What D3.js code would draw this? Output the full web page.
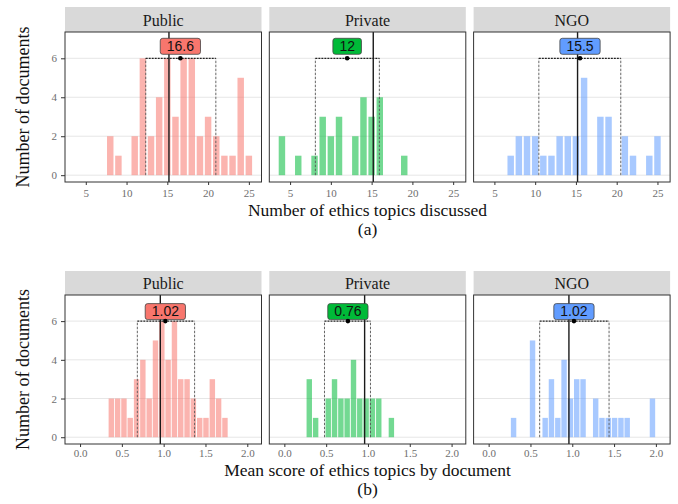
<!DOCTYPE html>
<html><head><meta charset="utf-8">
<script src="https://cdn.jsdelivr.net/npm/d3@7"></script>
<style>body{margin:0;background:#fff}</style></head>
<body><svg id="c" width="678" height="504"></svg>
<script>
const facets = ["Public", "Private", "NGO"];
const facetColors = ["#F8766D", "#00BA38", "#619CFF"];
const yTickValues = [0, 2, 4, 6];

// (a) Number of ethics topics discussed — bins of width 1, centred on integers
const topBinCenters = [4,5,6,7,8,9,10,11,12,13,14,15,16,17,18,19,20,21,22,23,24,25];
const topPublic  = [0,0,0,0,2,1,0,2,6,2,4,6,3,6,6,2,3,2,1,1,5,1];
const topPrivate = [2,0,1,0,1,3,2,3,0,2,4,3,4,0,0,1,0,0,0,0,0,0];
const topNGO     = [0,0,0,1,2,2,2,1,1,2,2,2,5,0,3,3,0,2,1,0,1,2];
const topMeans = [16.6, 12, 15.5];
const topMeanLabels = ["16.6", "12", "15.5"];
const topLow  = [12.35, 8.1, 10.45];
const topHigh = [20.95, 15.95, 20.5];
const topOverallMean = 15.2;
const topXTicks = [5, 10, 15, 20, 25];

// (b) Mean score of ethics topics by document
const bottomBinCenters = [0.298,0.374,0.449,0.525,0.600,0.676,0.751,0.827,0.902,0.978,1.053,1.129,1.204,1.280,1.355,1.431,1.506,1.582,1.657,1.733,1.808,1.884,1.959];
const bottomPublic  = [0,2,2,2,1,3,4,2,5,6,4,6,3,3,2,1,1,3,2,1,0,0,0];
const bottomPrivate = [3,1,0,2,3,2,2,4,2,2,2,2,0,1,0,0,0,0,0,0,0,0,0];
const bottomNGO     = [1,0,0,5,0,1,3,1,4,2,3,3,0,2,1,1,1,1,1,0,0,0,2];
const bottomMeans = [1.02, 0.76, 1.02];
const bottomMeanLabels = ["1.02", "0.76", "1.02"];
const bottomLow  = [0.685, 0.48, 0.61];
const bottomHigh = [1.37, 1.03, 1.44];
const bottomOverallMean = 0.96;
const bottomXTicks = [0, 0.5, 1, 1.5, 2];

const svg = d3.select("#c");
svg.append("rect").attr("width", 678).attr("height", 504).attr("fill", "#fff");

const serif = "'Liberation Serif','Times New Roman',serif";
const sans = "'Liberation Sans',Arial,sans-serif";
const panelLefts = [65, 269.3, 473.6];
const panelW = 196.5;

const rows = [
  {stripTop: 7, panelTop: 32, panelBottom: 182, xDomain: [2.45, 26.55], ticks: topXTicks, fmt: d3.format("d"),
   bins: topBinCenters, binWidth: 1, gap: 1.7, counts: [topPublic, topPrivate, topNGO],
   means: topMeans, labels: topMeanLabels, lows: topLow, highs: topHigh, overall: topOverallMean,
   labelBottom: 4, tickPad: 4, xTitle: "Number of ethics topics discussed", xTitleY: 215.5, sub: "(a)", subY: 235},
  {stripTop: 271, panelTop: 295, panelBottom: 444, xDomain: [-0.18, 2.17], ticks: bottomXTicks, fmt: d3.format(".1f"),
   bins: bottomBinCenters, binWidth: 0.0755, gap: 0.9, counts: [bottomPublic, bottomPrivate, bottomNGO],
   means: bottomMeans, labels: bottomMeanLabels, lows: bottomLow, highs: bottomHigh, overall: bottomOverallMean,
   labelBottom: 1.5, tickPad: 2.5, xTitle: "Mean score of ethics topics by document", xTitleY: 475.5, sub: "(b)", subY: 495}
];

rows.forEach(row => {
  const y = d3.scaleLinear().domain([-0.35, 7.35]).range([row.panelBottom, row.panelTop]);
  facets.forEach((f, i) => {
    const x0 = panelLefts[i];
    const x = d3.scaleLinear().domain(row.xDomain).range([x0, x0 + panelW]);
    const g = svg.append("g");
    // strip
    g.append("rect").attr("x", x0).attr("y", row.stripTop).attr("width", panelW)
      .attr("height", row.panelTop - row.stripTop).attr("fill", "#D9D9D9");
    g.append("text").attr("x", x0 + panelW / 2).attr("y", row.panelTop - 6.5)
      .attr("text-anchor", "middle").attr("font-family", serif).attr("font-size", 16)
      .attr("fill", "#1A1A1A").text(f);
    // grid
    g.selectAll(".grid").data(yTickValues).enter().append("line")
      .attr("x1", x0).attr("x2", x0 + panelW).attr("y1", d => y(d)).attr("y2", d => y(d))
      .attr("stroke", "#E6E6E6").attr("stroke-width", 1);
    // bars
    const data = row.bins.map((c, k) => ({c, n: row.counts[i][k]})).filter(d => d.n > 0);
    g.selectAll(".bar").data(data).enter().append("rect")
      .attr("x", d => x(d.c - row.binWidth / 2) + row.gap / 2)
      .attr("width", d => x(d.c + row.binWidth / 2) - x(d.c - row.binWidth / 2) - row.gap)
      .attr("y", d => y(d.n)).attr("height", d => y(0) - y(d.n))
      .attr("fill", facetColors[i]).attr("fill-opacity", 0.55);
    // dashed box
    const lo = row.lows[i], hi = row.highs[i];
    g.append("path").attr("d", `M${x(lo)},${y(0)}V${y(6)}M${x(hi)},${y(0)}V${y(6)}`)
      .attr("stroke", "#555").attr("stroke-width", 0.9).attr("stroke-dasharray", "2.5,1.5").attr("fill", "none");
    g.append("line").attr("x1", x(lo)).attr("x2", x(hi)).attr("y1", y(6)).attr("y2", y(6))
      .attr("stroke", "#222").attr("stroke-width", 1.2).attr("stroke-dasharray", "2,1");
    // overall mean line
    g.append("line").attr("x1", x(row.overall)).attr("x2", x(row.overall))
      .attr("y1", row.panelTop).attr("y2", row.panelBottom)
      .attr("stroke", "#1A1A1A").attr("stroke-width", 1.4);
    // label
    const m = row.means[i];
    const t = g.append("text").attr("x", x(m)).attr("y", y(6) - row.labelBottom - 3.2)
      .attr("text-anchor", "middle").attr("font-family", sans).attr("font-size", 14)
      .attr("fill", "#111").text(row.labels[i]);
    const tw = t.node().getComputedTextLength();
    g.insert("rect", () => t.node())
      .attr("x", x(m) - tw / 2 - 6.5).attr("width", tw + 13)
      .attr("y", y(6) - row.labelBottom - 16).attr("height", 16)
      .attr("rx", 2.5).attr("fill", facetColors[i]).attr("stroke", "#444").attr("stroke-width", 0.8);
    g.append("circle").attr("cx", x(m)).attr("cy", y(6)).attr("r", 2.3).attr("fill", "#000");
    // x axis
    const ax = g.append("g").attr("transform", `translate(0,${row.panelBottom})`)
      .call(d3.axisBottom(x).tickValues(row.ticks).tickFormat(row.fmt).tickSize(3).tickPadding(row.tickPad));
    ax.select(".domain").remove();
    ax.selectAll("line").attr("stroke", "#333");
    ax.selectAll("text").attr("font-family", serif).attr("font-size", 11).attr("fill", "#6E6E6E");
    // y axis on first panel
    if (i === 0) {
      const ay = g.append("g").attr("transform", `translate(${x0},0)`)
        .call(d3.axisLeft(y).tickValues(yTickValues).tickFormat(d3.format("d")).tickSize(4).tickPadding(4));
      ay.select(".domain").remove();
      ay.selectAll("line").attr("stroke", "#333");
      ay.selectAll("text").attr("font-family", serif).attr("font-size", 11).attr("fill", "#6E6E6E");
    }
    // border
    g.append("rect").attr("x", x0).attr("y", row.panelTop).attr("width", panelW)
      .attr("height", row.panelBottom - row.panelTop).attr("fill", "none")
      .attr("stroke", "#333").attr("stroke-width", 1);
  });
  // titles
  const cx = (panelLefts[0] + panelLefts[2] + panelW) / 2;
  svg.append("text").attr("x", cx).attr("y", row.xTitleY).attr("text-anchor", "middle")
    .attr("font-family", serif).attr("font-size", 17.5).attr("fill", "#111").text(row.xTitle);
  svg.append("text").attr("x", cx).attr("y", row.subY).attr("text-anchor", "middle")
    .attr("font-family", serif).attr("font-size", 17.5).attr("fill", "#111").text(row.sub);
  svg.append("text").attr("transform", `translate(29,${(row.panelTop + row.panelBottom) / 2}) rotate(-90)`)
    .attr("text-anchor", "middle").attr("font-family", serif).attr("font-size", 18)
    .attr("fill", "#111").text("Number of documents");
});
</script>
</body></html>
